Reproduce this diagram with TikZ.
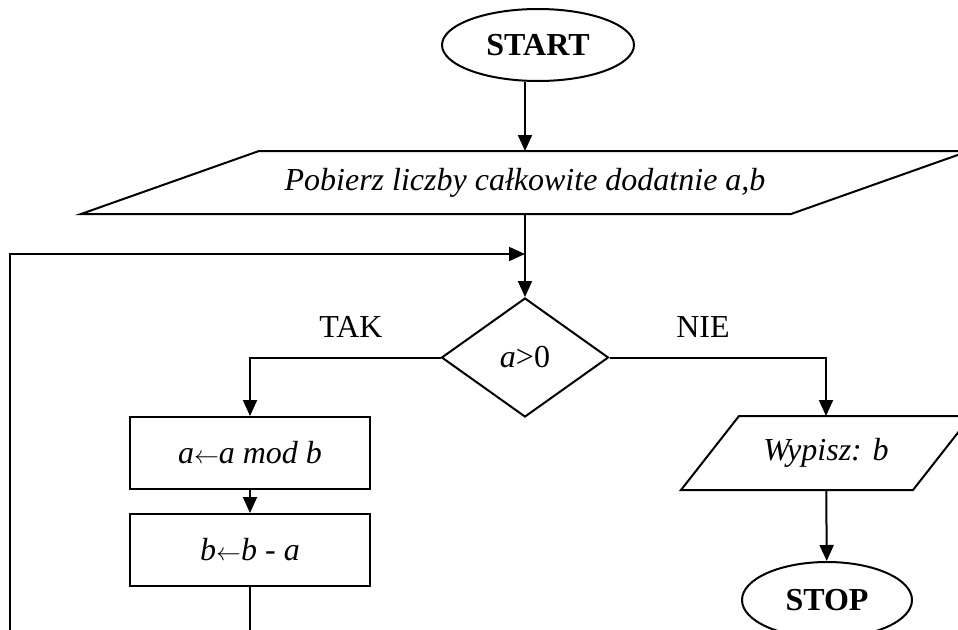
\documentclass[tikz,border=0pt]{standalone}
\usepackage{fontspec}
\setmainfont{Liberation Serif}
\usetikzlibrary{arrows.meta, shapes.geometric, calc, positioning}

\begin{document}
\begin{tikzpicture}[x=1pt,y=-1pt,line width=2pt,line join=miter,
    txt/.style={font=\fontsize{32}{37}\selectfont},
    term/.style={txt,draw,ellipse,inner sep=0pt,font=\fontsize{32}{37}\selectfont\bfseries},
    io/.style={txt,rectangle,inner sep=0pt},
    proc/.style={txt,draw,rectangle,minimum width=240,minimum height=72},
    cond/.style={txt,draw,diamond,minimum width=167,minimum height=119,inner sep=0pt},
    flow/.style={-{Triangle[length=16pt,width=14pt]}}]

                \useasboundingbox (0,0) rectangle (958,629);
                \clip (0,0) rectangle (958,629);

                \node[term,minimum width=192,minimum height=72] (start) at (538,45) {START};
                \node[io,minimum width=708,minimum height=61] (pobierz) at (525,182.5)
                      {\itshape Pobierz liczby całkowite dodatnie a,b};
                \draw ($(pobierz.south west)+(-89,0)$) -- ($(pobierz.north west)+(89,0)$)
                   -- ($(pobierz.north east)+(89,0)$) -- ($(pobierz.south east)+(-89,0)$) -- cycle;
                \coordinate (join) at (525,254);
                \node[cond] (dec) at (525,357.5) {\itshape a\upshape >0};
                \node[txt] (tak) at (351,327) {TAK};
                \node[txt] (nie) at (703,327) {NIE};

                \node[proc] (upd1) at (250,453) {\itshape a$\leftarrow$a mod b};
                \node[proc] (upd2) at (250,550) {\itshape b$\leftarrow$b - a};

                \node[io,minimum width=230,minimum height=72] (out) at (826,453) {\itshape Wypisz: b};
                \draw ($(out.south west)+(-29,0)$) -- ($(out.north west)+(29,0)$)
                   -- ($(out.north east)+(29,0)$) -- ($(out.south east)+(-29,0)$) -- cycle;
                \node[term,minimum width=170,minimum height=76] (stop) at (827,600) {STOP};
                \coordinate (back) at (10,660);

                \draw[flow] (start.south -| pobierz.north) -- (pobierz.north);
                \draw[flow] (pobierz.south) -- (dec.north);
                \draw[flow] (dec.west) -| (upd1.north);
                \draw[flow] (upd1) -- (upd2);
                \draw[flow] (dec.east) -| (out.north);
                \draw[flow] (out) -- (stop);
                \draw[flow] (upd2.south) |- (back) |- (join);
\end{tikzpicture}
\end{document}
